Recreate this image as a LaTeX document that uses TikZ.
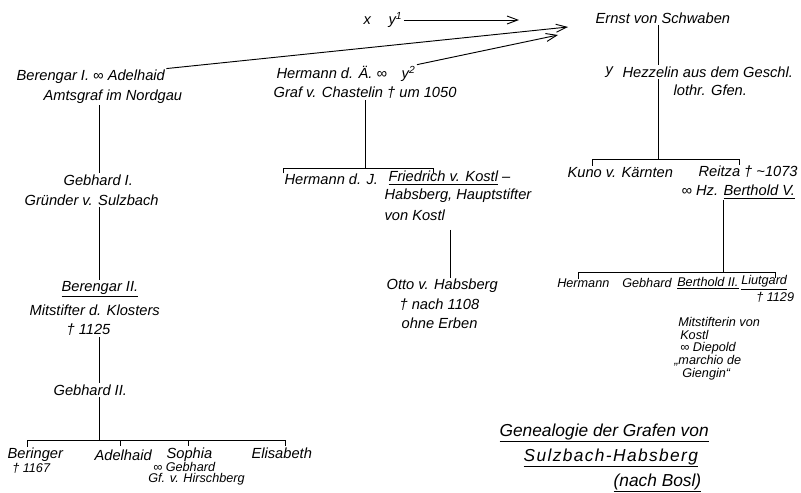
\documentclass[tikz,border=0pt]{standalone}
\usepackage{fontspec}
\setmainfont{Liberation Sans}
\usetikzlibrary{arrows.meta}

\begin{document}
\begin{tikzpicture}[x=0.75pt, y=-0.75pt,
        person/.style={anchor=west, inner sep=1pt, font=\fontsize{11}{12}\selectfont\itshape},
        note/.style={person, inner sep=0pt, font=\fontsize{9.5}{10}\selectfont\itshape},
        heading/.style={person, font=\fontsize{13}{14}\selectfont\itshape},
        tree/.style={line width=0.7pt},
        arr/.style={-{Straight Barb[length=8pt, width=6pt]}, line width=0.7pt}
    ]
        \useasboundingbox (0,0) rectangle (801,493);

        % top row and the arrows
        \node[person] (xy) at (362,20) {x\hspace{1.2em}y\textsuperscript{1}};
        \node[person] (ernst) at (594,18) {Ernst von Schwaben};
        \node[person] (berengarA) at (15,77) {Berengar I. ∞ Adelhaid};
        \node[person] (amtsgraf) at (42,97) {Amtsgraf im Nordgau};
        \node[person] (hermannA) at (275,74) {Hermann d. Ä. ∞\quad y\textsuperscript{2}};
        \node[person] (chastelin) at (272,93) {Graf v. Chastelin † um 1050};
        \coordinate (tipA) at (519,20);
        \coordinate (tipB) at (568,27);
        \coordinate (tipC) at (558,35);
        \draw[arr] (xy.east) -- (tipA);
        \draw[arr] (berengarA.north east) -- (tipB);
        \draw[arr] (hermannA.north east) -- (tipC);

        % Sulzbach line
        \coordinate (stemS) at (99,0);
        \node[person] (gebhardA) at (62,180) {Gebhard I.};
        \node[person] (gruender) at (23,200) {Gründer v. Sulzbach};
        \node[person] (berengarB) at (60,289) {\underline{Berengar II.}};
        \node[person] (mitstifter) at (28,310) {Mitstifter d. Klosters};
        \node[person] (dagA) at (65,330) {† 1125};
        \node[person] (gebhardB) at (52,390) {Gebhard II.};
        \draw[tree] (amtsgraf.south -| stemS) -- (gebhardA.north -| stemS);
        \draw[tree] (gruender.south -| stemS) -- (berengarB.north -| stemS);
        \draw[tree] (dagA.south -| stemS) -- (gebhardB.north -| stemS);
        \coordinate (barSa) at (27,440);
        \coordinate (barSb) at (285,440);
        \draw[tree] (gebhardB.south -| stemS) -- (barSa -| stemS);
        \draw[tree] ([yshift=-5pt]barSa) -- (barSa) -- (barSb) -- ++(0,6);
        \draw[tree] (120,440) -- ++(0,6) (188,440) -- ++(0,6);
        \node[person] (beringer) at (6,455) {Beringer};
        \node[note] (dagB) at (12,468) {† 1167};
        \node[person] (adelhaid) at (93,455) {Adelhaid};
        \node[person] (sophia) at (165,455) {Sophia};
        \node[note] (gebhardC) at (153,467) {∞ Gebhard};
        \node[note] (hirschberg) at (148,479) {Gf. v. Hirschberg};
        \node[person] (elisabeth) at (250,453) {Elisabeth};

        % Chastelin line
        \coordinate (stemC) at (365,0);
        \coordinate (barCa) at (283,168);
        \coordinate (barCb) at (433,168);
        \draw[tree] (chastelin.south -| stemC) -- (barCa -| stemC);
        \draw[tree] ([yshift=-4pt]barCa) -- (barCa) -- (barCb) -- ++(0,5);
        \node[person] (hermannB) at (283,179) {Hermann d. J.};
        \node[person] (friedrich) at (387,178) {\underline{Friedrich v. Kostl} –};
        \node[person] (habsberg) at (383,196) {Habsberg, Hauptstifter};
        \node[person] (vonkostl) at (383,215) {von Kostl};
        \node[person] (otto) at (385,286) {Otto v. Habsberg};
        \node[person] (dagC) at (398,305) {† nach 1108};
        \node[person] (erben) at (400,323) {ohne Erben};
        \coordinate (stemF) at (450,0);
        \draw[tree] ([yshift=-6pt]vonkostl.south -| stemF) -- (otto.north -| stemF);

        % Schwaben line
        \coordinate (stemE) at (658,0);
        \node[person] (yy) at (604,72) {y};
        \node[person] (hezzelin) at (621,72) {Hezzelin aus dem Geschl.};
        \node[person] (lothr) at (672,90) {lothr. Gfen.};
        \coordinate (barEa) at (592,159);
        \coordinate (barEb) at (739,159);
        \draw[tree] (ernst.south -| stemE) -- (hezzelin.north -| stemE);
        \draw[tree] (hezzelin.south -| stemE) -- (barEa -| stemE);
        \draw[tree] ([yshift=-5pt]barEa) -- (barEa) -- (barEb) -- ++(0,6);
        \node[person] (kuno) at (566,173) {Kuno v. Kärnten};
        \node[person] (reitza) at (697,172) {Reitza † \textasciitilde 1073};
        \node[person] (bertholdA) at (680,192) {∞ Hz. \underline{Berthold V.}};
        \coordinate (stemR) at (723,0);
        \coordinate (barRa) at (578,272);
        \coordinate (barRb) at (775,272);
        \draw[tree] (bertholdA.south -| stemR) -- (barRa -| stemR);
        \draw[tree] ([yshift=-5pt]barRa) -- (barRa) -- (barRb) -- ++(0,6);
        \node[note] (hermannC) at (557,283) {Hermann};
        \node[note] (gebhardD) at (622,283) {Gebhard};
        \node[note] (bertholdB) at (677,283) {\underline{Berthold II.}};
        \node[note] (liutgard) at (741,283) {\underline{Liutgard}};
        \node[note] (dagD) at (756,297) {† 1129};
        \node[note] (stifterin) at (678,322) {Mitstifterin von};
        \node[note] (kostl) at (680,335) {Kostl};
        \node[note] (diepold) at (680,348) {∞ Diepold};
        \node[note] (marchio) at (674,361) {„marchio de};
        \node[note] (giengin) at (682,374) {Giengin“};

        % title
        \node[heading] (titleA) at (498,433) {\underline{Genealogie der Grafen von}};
        \node[heading] (titleB) at (522,458) {\addfontfeatures{LetterSpace=8}\underline{Sulzbach-Habsberg}};
        \node[heading] (titleC) at (612,483) {\underline{(nach Bosl)}};
    \end{tikzpicture}
\end{document}
